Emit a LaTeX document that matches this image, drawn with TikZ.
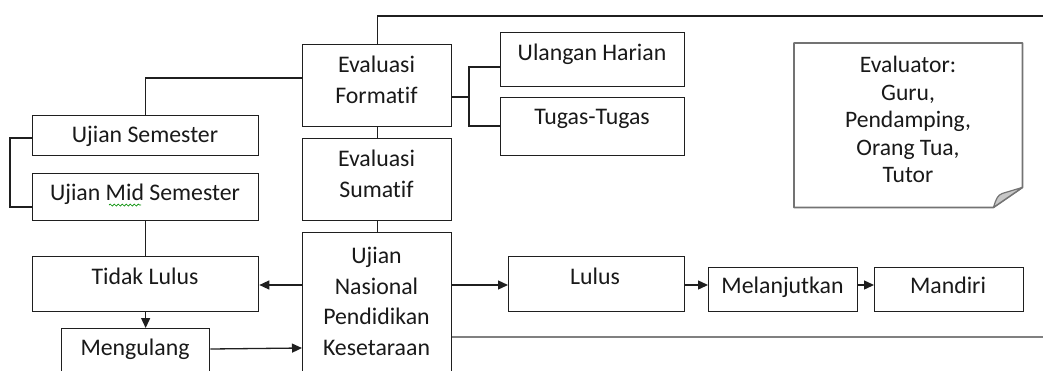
\documentclass[tikz,border=0pt]{standalone}
\usepackage{fontspec}
\setmainfont{Carlito}[Ligatures=NoCommon]
\usetikzlibrary{arrows.meta,decorations.pathmorphing}
\begin{document}
\begin{tikzpicture}[x=1pt,y=-1pt,
  box/.style={draw=black!88, line width=1.3pt, anchor=north west, inner sep=0pt},
  txt/.style={font=\fontsize{23.8}{30.8}\selectfont, text=black!90, align=center, inner sep=0pt, anchor=base},
  notetxt/.style={txt, font=\fontsize{23.6}{27.5}\selectfont},
  link/.style={draw=black!88, line width=1.3pt},
  arr/.style={link, -{Triangle[length=10pt,width=9pt]}},
  grayline/.style={draw=black!50, line width=1.5pt},
  noteline/.style={draw=black!55, line width=1.8pt, line join=round},
  ]
\useasboundingbox (0,0) rectangle (1043,370);
\clip (0,0) rectangle (1043,370);
% boxes
\node[box, minimum width=149pt, minimum height=82pt] (form) at (302,44) {};
\node[box, minimum width=149pt, minimum height=82pt] (sum) at (302,138) {};
\node[box, minimum width=149pt, minimum height=170pt] (un) at (302,232) {};
\node[box, minimum width=226pt, minimum height=40pt] (usem) at (32,115) {};
\node[box, minimum width=226pt, minimum height=47pt] (umid) at (32,173) {};
\node[box, minimum width=226pt, minimum height=55pt] (tl) at (32,256) {};
\node[box, minimum width=148pt, minimum height=70pt] (meng) at (61,328) {};
\node[box, minimum width=184pt, minimum height=54pt] (ulang) at (500,32) {};
\node[box, minimum width=184pt, minimum height=58pt] (tugas) at (500,97) {};
\node[box, minimum width=176pt, minimum height=55pt] (lulus) at (508,256) {};
\node[box, minimum width=149pt, minimum height=44pt] (mel) at (708,267) {};
\node[box, minimum width=149pt, minimum height=44pt] (mand) at (874,267) {};
\node[anchor=north west, inner sep=0pt, minimum width=228pt, minimum height=164pt] (note) at (794,43) {};
% note outline with folded corner
\coordinate (nA) at ([xshift=-29pt]note.south east);
\coordinate (nB) at ([yshift=20pt]note.south east);
\coordinate (nC) at ([xshift=-20pt,yshift=14pt]note.south east);
\draw[noteline] (note.north west) -- (note.north east) -- (nB) -- (nA) -- (note.south west) -- cycle;
\draw[noteline, line width=1.2pt, fill=black!22] (nA) .. controls +(3,-9) and +(-5,2) .. (nC) -- (nB) -- cycle;
% texts (anchor=base is the baseline of the last line)
\node[txt] (form-t) at (376.5,103.5) {Evaluasi\\Formatif};
\node[txt] (sum-t) at (376.5,197.3) {Evaluasi\\Sumatif};
\node[txt] (un-t) at (376.5,355.7) {Ujian\\Nasional\\Pendidikan\\Kesetaraan};
\node[txt] (usem-t) at (145,142.7) {Ujian Semester};
\node[txt] (umid-t) at (145,200.7) {Ujian Mid Semester};
\node[txt] (tl-t) at (145,284) {Tidak Lulus};
\node[txt] (meng-t) at (135,355.7) {Mengulang};
\node[txt] (ulang-t) at (592,60.7) {Ulangan Harian};
\node[txt] (tugas-t) at (592,124) {Tugas-Tugas};
\node[txt] (lulus-t) at (595,284.3) {Lulus};
\node[txt] (mel-t) at (782.5,293.7) {Melanjutkan};
\node[txt] (mand-t) at (948,293.7) {Mandiri};
\node[notetxt] (note-t) at (908,182.7) {Evaluator:\\Guru,\\Pendamping,\\Orang Tua,\\Tutor};
% spell-check underline
\draw[green!55!black, line width=0.7pt, decorate, decoration={snake, amplitude=1pt, segment length=4pt}] (109,205) -- (141,205);
% connectors
\coordinate (topend) at (1050,16);
\coordinate (grend) at (1050,337);
\coordinate (brk) at (469,97);
\draw[link] (form.north) |- (topend);
\draw[link] (form.west |- 0,78) -| (usem.north);
\draw[link] (usem.west |- 0,138) -- ++(-22,0) |- (umid.west |- 0,207);
\draw[link] (form.east |- brk) -- (brk);
\draw[link] (ulang.west |- 0,67) -| (brk) |- (tugas.west |- 0,126);
\draw[link] (form.south) -- (sum.north);
\draw[link] (sum.south) -- (un.north);
\draw[link] (umid.south) -- (tl.north);
\draw[arr] (un.west |- 0,285) -- (tl.east |- 0,285);
\draw[arr] (tl.south) -- (meng.north -| tl.south);
\draw[arr] (meng.east |- 0,349) -- (un.west |- 0,348);
\draw[arr] (un.east |- 0,285) -- (lulus.west |- 0,285);
\draw[arr] (lulus.east |- 0,285) -- (mel.west |- 0,285);
\draw[arr] (mel.east |- 0,285) -- (mand.west |- 0,285);
\draw[grayline] (un.east |- grend) -- (grend);
\end{tikzpicture}
\end{document}
